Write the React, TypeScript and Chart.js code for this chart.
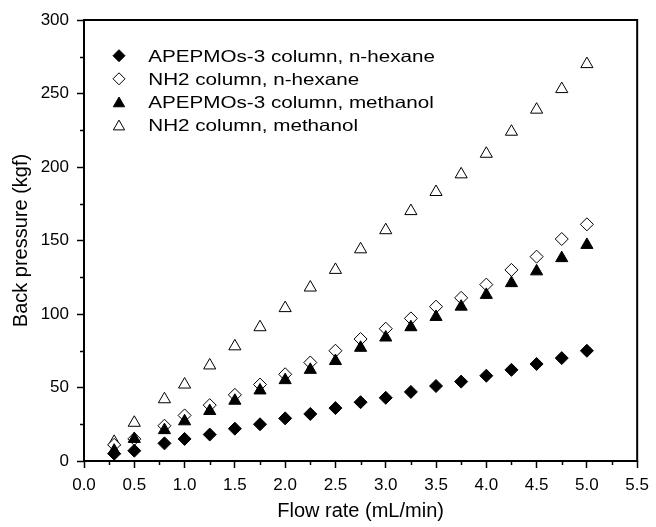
import React, { useEffect, useRef } from "react";
import { Chart, registerables } from "chart.js";

Chart.register(...registerables);

const flowRates = [0.3, 0.5, 0.8, 1.0, 1.25, 1.5, 1.75, 2.0, 2.25, 2.5, 2.75, 3.0, 3.25, 3.5, 3.75, 4.0, 4.25, 4.5, 4.75, 5.0];
const apepmosHexane = [5, 7, 12, 15, 18, 22, 25, 29, 32, 36, 40, 43, 47, 51, 54, 58, 62, 66, 70, 75];
const nh2Hexane = [11, 15, 24, 31, 38, 45, 52, 59, 67, 75, 83, 90, 97, 105, 111, 120, 130, 139, 151, 161];
const apepmosMethanol = [7, 15, 21, 27, 34, 41, 48, 55, 62, 68, 77, 84, 91, 98, 105, 113, 121, 129, 138, 147];
const nh2Methanol = [13, 26, 42, 52, 65, 78, 91, 104, 118, 130, 144, 157, 170, 183, 195, 209, 224, 239, 253, 270];

const seriesLabels = [
  "APEPMOs-3 column, n-hexane",
  "NH2 column, n-hexane",
  "APEPMOs-3 column, methanol",
  "NH2 column, methanol",
];
const xMinorTicks = [0.25, 0.75, 1.25, 1.75, 2.25, 2.75, 3.25, 3.75, 4.25, 4.75, 5.25];
const yMinorTicks = [25, 75, 125, 175, 225, 275];

const FONT = "'Liberation Sans', Arial, Helvetica, sans-serif";

const decorPlugin = {
  id: "decor",
  afterDraw(chart: any) {
    const { ctx, chartArea: a, scales } = chart;
    ctx.save();
    ctx.strokeStyle = "#000";
    ctx.lineWidth = 2;
    ctx.strokeRect(a.left, a.top, a.right - a.left, a.bottom - a.top);
    ctx.lineWidth = 1.5;
    ctx.beginPath();
    for (const v of xMinorTicks) {
      const px = Math.round(scales.x.getPixelForValue(v)) + 0.5;
      ctx.moveTo(px, a.bottom);
      ctx.lineTo(px, a.bottom + 4);
    }
    for (const v of yMinorTicks) {
      const py = Math.round(scales.y.getPixelForValue(v)) + 0.5;
      ctx.moveTo(a.left, py);
      ctx.lineTo(a.left - 4, py);
    }
    ctx.stroke();

    // legend
    const mx = 119;
    const baseY0 = 61.7;
    const step = 23.1;
    chart.data.datasets.forEach((ds: any, i: number) => {
      const cy = baseY0 + i * step - 6;
      ctx.beginPath();
      if (ds.pointStyle === "rectRot") {
        const r = 6;
        ctx.moveTo(mx, cy - r);
        ctx.lineTo(mx + r, cy);
        ctx.lineTo(mx, cy + r);
        ctx.lineTo(mx - r, cy);
        ctx.closePath();
      } else {
        const r = 6.5;
        const c = cy + r / 4;
        ctx.moveTo(mx, c - r);
        ctx.lineTo(mx + r * 0.866, c + r / 2);
        ctx.lineTo(mx - r * 0.866, c + r / 2);
        ctx.closePath();
      }
      ctx.fillStyle = ds.backgroundColor;
      ctx.fill();
      ctx.lineWidth = 1;
      ctx.strokeStyle = "#000";
      ctx.stroke();

      ctx.save();
      ctx.translate(148.3, baseY0 + i * step);
      ctx.scale(1.25, 1);
      ctx.font = `16.5px ${FONT}`;
      ctx.fillStyle = "#000";
      ctx.textBaseline = "alphabetic";
      ctx.textAlign = "left";
      ctx.fillText(ds.label, 0, 0);
      ctx.restore();
    });
    ctx.restore();
  },
};

export default function App() {
  const ref = useRef<HTMLCanvasElement>(null);
  useEffect(() => {
    const canvas = ref.current;
    if (!canvas) return;
    const mk = (ys: number[]) => flowRates.map((x, i) => ({ x, y: ys[i] }));
    const chart = new Chart(canvas, {
      type: "scatter",
      data: {
        datasets: [
          { label: seriesLabels[0], data: mk(apepmosHexane), pointStyle: "rectRot", pointRadius: 6.5, backgroundColor: "#000", borderColor: "#000", borderWidth: 1, order: 0 },
          { label: seriesLabels[1], data: mk(nh2Hexane), pointStyle: "rectRot", pointRadius: 6.5, backgroundColor: "#fff", borderColor: "#000", borderWidth: 1, order: 2 },
          { label: seriesLabels[2], data: mk(apepmosMethanol), pointStyle: "triangle", pointRadius: 7, backgroundColor: "#000", borderColor: "#000", borderWidth: 1, order: 1 },
          { label: seriesLabels[3], data: mk(nh2Methanol), pointStyle: "triangle", pointRadius: 7, backgroundColor: "#fff", borderColor: "#000", borderWidth: 1, order: 3 },
        ] as any,
      },
      options: {
        responsive: false,
        animation: false,
        devicePixelRatio: 1,
        layout: { padding: { left: 0, top: 20, right: 14, bottom: 0 } },
        plugins: { legend: { display: false }, tooltip: { enabled: false } },
        scales: {
          x: {
            type: "linear",
            min: 0,
            max: 5.5,
            afterFit: (s: any) => { s.height = 66; },
            border: { display: false },
            grid: { drawOnChartArea: false, drawTicks: true, tickLength: 7, tickColor: "#000", tickWidth: 1.5 },
            ticks: {
              stepSize: 0.5,
              color: "#000",
              font: { family: FONT, size: 17 },
              padding: 7,
              maxRotation: 0,
              callback: (v: any) => Number(v).toFixed(1),
            },
            title: {
              display: true,
              text: "Flow rate (mL/min)",
              color: "#000",
              font: { family: FONT, size: 20 },
              padding: { top: 0, bottom: 4 },
            },
          },
          y: {
            type: "linear",
            min: 0,
            max: 300,
            afterFit: (s: any) => { s.width = 84; },
            border: { display: false },
            grid: { drawOnChartArea: false, drawTicks: true, tickLength: 7, tickColor: "#000", tickWidth: 1.5 },
            ticks: {
              stepSize: 50,
              color: "#000",
              font: { family: FONT, size: 17 },
              padding: 8,
            },
            title: {
              display: true,
              text: "Back pressure (kgf)",
              color: "#000",
              font: { family: FONT, size: 20 },
              padding: { top: 9, bottom: 0 },
            },
          },
        },
      } as any,
      plugins: [decorPlugin],
    });
    return () => chart.destroy();
  }, []);
  return (
    <div style={{ position: "absolute", left: 0, top: 0, width: 656, height: 527, background: "#fff" }}>
      <canvas ref={ref} width={656} height={527} style={{ display: "block" }} />
    </div>
  );
}
